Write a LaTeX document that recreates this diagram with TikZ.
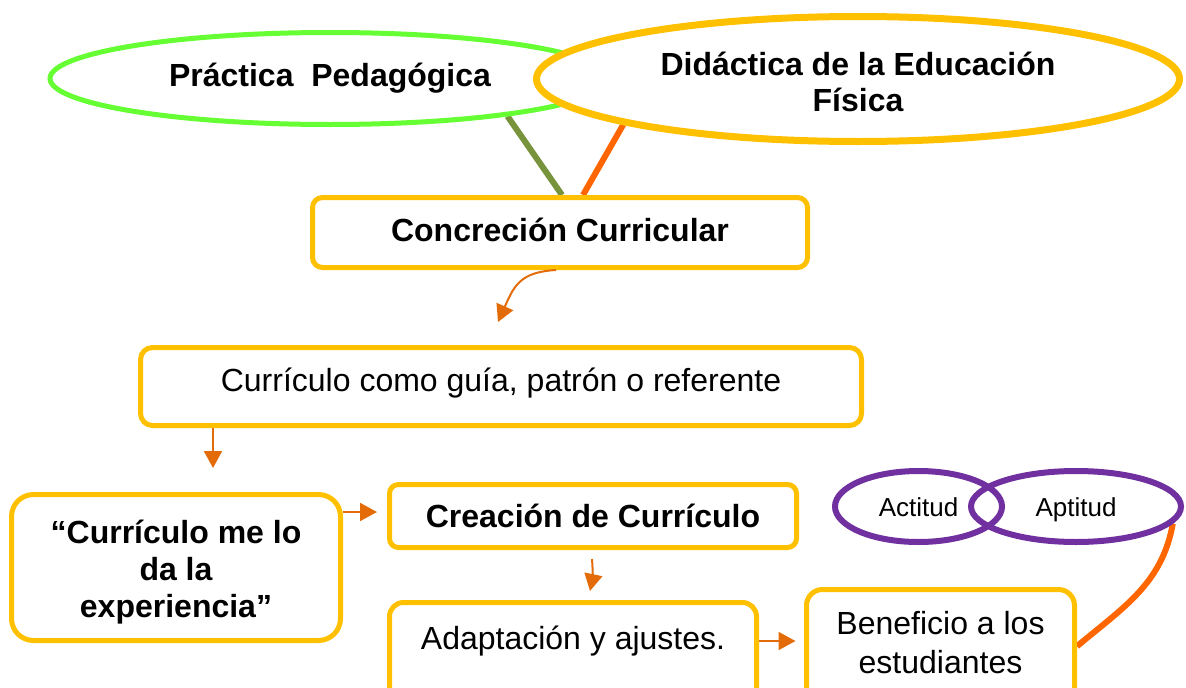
\documentclass[tikz,border=0pt]{standalone}
\usepackage{fontspec}
\setmainfont{Liberation Sans}
\usetikzlibrary{shapes.geometric,arrows.meta,calc}
\definecolor{cyel}{HTML}{FFC000}
\definecolor{cgreen}{HTML}{66FF33}
\definecolor{colive}{HTML}{77933C}
\definecolor{corange}{HTML}{FF6600}
\definecolor{carrow}{HTML}{E36C09}
\definecolor{cpurple}{HTML}{7030A0}
\pgfdeclarelayer{bg}\pgfsetlayers{bg,main}
\begin{document}
\begin{tikzpicture}[x=1pt,y=1pt,
  every node/.style={font=\fontsize{32}{37}\selectfont, text=black},
  box/.style={draw=cyel, line width=5pt, fill=white, inner sep=0pt, align=center},
  oval/.style={ellipse, inner sep=0pt, align=center},
  bold/.style={font=\fontsize{32}{37}\selectfont\bfseries},
  arr/.style={draw=carrow, line width=2pt, -{Triangle[length=17pt,width=18pt]}},
  link/.style={line width=6pt}
]
\useasboundingbox (0,0) rectangle (1186,-688);
\clip (0,0) rectangle (1186,-688);

% top ellipses
\node[oval, draw=cgreen, line width=5pt, fill=white, minimum width=560, minimum height=92,
      label={[bold]center:Práctica\ \ Pedagógica}] (prac) at (330,-78.5) {};
\node[oval, draw=cyel, line width=7pt, fill=white, minimum width=643, minimum height=125,
      label={[yshift=-3pt, align=center, font=\fontsize{32}{36}\selectfont\bfseries]center:Didáctica de la Educación\\Física}] (did) at (858,-79) {};

% boxes
\node[box, rounded corners=10pt, minimum width=495, minimum height=70,
      label={[bold, yshift=3pt]center:Concreción Curricular}] (conc) at (560,-232.5) {};
\node[box, rounded corners=12pt, minimum width=721, minimum height=78,
      label={[yshift=3pt]center:Currículo como guía, patrón o referente}] (cur) at (501,-386.5) {};
\node[box, rounded corners=22pt, minimum width=329, minimum height=146,
      label={[bold, align=center, yshift=-5pt]center:“Currículo me lo\\da la\\experiencia”}] (exp) at (176,-567.5) {};
\node[box, rounded corners=9pt, minimum width=407, minimum height=63,
      label={[bold]center:Creación de Currículo}] (crea) at (593,-516) {};
\node[box, rounded corners=14pt, minimum width=367, minimum height=102.5,
      label={[yshift=13pt]center:Adaptación y ajustes.}] (adap) at (573,-653.75) {};
\node[box, rounded corners=16pt, minimum width=268, minimum height=115.5,
      label={[yshift=4.5pt, align=center, font=\fontsize{32}{39}\selectfont]center:Beneficio a los\\estudiantes}] (ben) at (940.5,-647.25) {};

% purple ellipses
\node[oval, draw=cpurple, line width=6pt, minimum width=167, minimum height=71,
      label={[font=\fontsize{26}{30}\selectfont, yshift=-1pt]center:Actitud}] (act) at (918.5,-506.5) {};
\node[oval, draw=cpurple, line width=6pt, minimum width=210, minimum height=71,
      label={[font=\fontsize{26}{30}\selectfont, yshift=-3pt]center:Aptitud}] (apt) at (1076,-506.5) {};

% free ends of arrows
\coordinate (a1) at (498,-322);
\coordinate (a2) at (213,-468);
\coordinate (a3) at ($(crea.west)+(-10,4)$);
\coordinate (a4) at ($(adap.north)+(17,9)$);
\coordinate (a5) at ($(ben.west)+(-8.5,6.25)$);

% thick connectors
\begin{pgfonlayer}{bg}
\draw[link, colive] (prac.-12) -- ([xshift=2pt]conc.north);
\draw[link, corange] (did.191) -- ([xshift=23pt]conc.north);
\draw[link, corange] (apt.-10) to[out=-100, in=40] ([yshift=1pt]ben.east);
\end{pgfonlayer}

% small arrows
\draw[arr] ([xshift=-4pt]conc.south) .. controls +(-36,-2) and +(16,36) .. (a1);
\draw[arr] (cur.south -| a2) -- (a2);
\draw[arr] (exp.east |- a3) -- (a3);
\draw[arr] ([yshift=-9pt, xshift=-1pt]crea.south) to[bend left=8] (a4);
\draw[arr] (adap.east |- a5) -- (a5);
\end{tikzpicture}
\end{document}
